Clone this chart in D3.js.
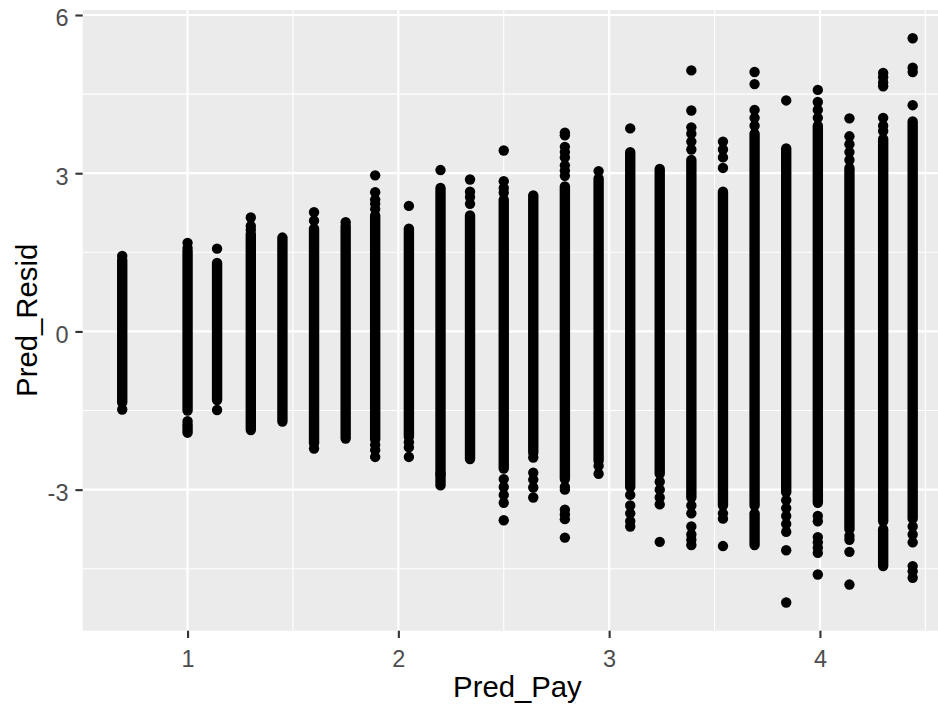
<!DOCTYPE html>
<html>
<head>
<meta charset="utf-8">
<script src="https://cdn.jsdelivr.net/npm/d3@7"></script>
<style>
  html, body { margin: 0; padding: 0; background: #ffffff; }
  svg { display: block; }
</style>
</head>
<body>
<svg id="chart" width="938" height="715"></svg>
<script>
// ---- Data ----
// Predicted pay levels (x positions of the vertical columns)
const predPay = [0.69, 1.00, 1.14, 1.30, 1.45, 1.60, 1.75, 1.89, 2.05, 2.20, 2.34, 2.50, 2.64,
                 2.79, 2.95, 3.10, 3.24, 3.39, 3.54, 3.69, 3.84, 3.99, 4.14, 4.30, 4.44];
// Dense range of residuals in each column (low / high)
const bandLow  = [-1.35, -1.50, -1.30, -1.87, -1.71, -2.12, -2.03, -2.05, -2.00, -2.92, -2.42, -2.60, -2.30,
                  -2.80, -2.45, -2.95, -2.70, -3.15, -3.30, -3.30, -3.05, -3.25, -3.75, -3.60, -3.55];
const bandHigh = [1.36, 1.52, 1.30, 1.85, 1.78, 1.95, 2.00, 2.20, 1.95, 2.72, 2.20, 2.50, 2.58,
                  2.75, 2.90, 3.40, 3.08, 3.25, 2.65, 3.75, 3.47, 3.90, 3.10, 3.65, 3.98];
// Secondary dense ranges separated from the main band
const extraCol  = [1, 19, 23];
const extraLow  = [-1.92, -4.05, -4.45];
const extraHigh = [-1.76, -3.45, -3.75];
// Isolated points per column
const outliers = [
  [1.43, -1.48],
  [1.68, 1.58, -1.70],
  [1.57, -1.49],
  [2.16, 2.00, 1.93],
  [],
  [2.26, 2.10, -2.22],
  [2.07],
  [2.96, 2.64, 2.50, 2.42, 2.32, -2.15, -2.25, -2.38],
  [2.38, -2.10, -2.20, -2.38],
  [3.06, -2.70],
  [2.88, 2.65, 2.55, 2.42],
  [3.43, 2.85, 2.72, 2.63, -2.80, -2.95, -3.10, -3.25, -3.58],
  [-2.39, -2.68, -2.81, -2.96, -3.15],
  [3.77, 3.72, 3.50, 3.40, 3.30, 3.15, 3.05, 2.95, -2.95, -3.00, -3.38, -3.47, -3.56, -3.91],
  [3.04, -2.55, -2.70],
  [3.85, -3.10, -3.30, -3.45, -3.60, -3.70],
  [-2.85, -3.00, -3.15, -3.28, -3.99],
  [4.95, 4.19, 3.87, 3.75, 3.60, 3.45, -3.30, -3.45, -3.70, -3.85, -3.95, -4.05],
  [3.60, 3.45, 3.30, 3.10, -3.45, -3.55, -4.07],
  [4.92, 4.69, 4.20, 4.05, 3.90],
  [4.38, -3.20, -3.35, -3.50, -3.65, -3.80, -4.15, -5.14],
  [4.58, 4.35, 4.20, 4.05, -3.50, -3.60, -3.90, -4.00, -4.10, -4.20, -4.61],
  [4.04, 3.70, 3.55, 3.40, 3.25, -3.88, -3.95, -4.18, -4.80],
  [4.90, 4.82, 4.72, 4.65, 4.05, 3.90, 3.80],
  [5.56, 5.00, 4.92, 4.29, -3.70, -3.85, -4.00, -4.45, -4.55, -4.67]
];
const xTicks = [1, 2, 3, 4];
const xMinor = [1.5, 2.5, 3.5, 4.5];
const yTicks = [-3, 0, 3, 6];
const yMinor = [-4.5, -1.5, 1.5, 4.5];
const xTickLabels = ["1", "2", "3", "4"];
const yTickLabels = ["-3", "0", "3", "6"];
const xTitle = "Pred_Pay";
const yTitle = "Pred_Resid";

// ---- Layout ----
const panel = { left: 82.7, top: 10, right: 952.2, bottom: 630.7 };
const font = "'Liberation Sans', Arial, Helvetica, sans-serif";
const ptR = 5.2;

// ggplot-style 5% expansion
function expand(ext) { const d = ext[1] - ext[0]; return [ext[0] - 0.05 * d, ext[1] + 0.05 * d]; }
const allY = bandLow.concat(bandHigh, extraLow, extraHigh, outliers.flat());
const x = d3.scaleLinear().domain(expand(d3.extent(predPay))).range([panel.left, panel.right]);
const y = d3.scaleLinear().domain(expand(d3.extent(allY))).range([panel.bottom, panel.top]);

const svg = d3.select("#chart");
svg.append("rect").attr("width", 938).attr("height", 715).attr("fill", "#ffffff");

// panel background
svg.append("rect")
  .attr("x", panel.left).attr("y", panel.top)
  .attr("width", panel.right - panel.left).attr("height", panel.bottom - panel.top)
  .attr("fill", "#EBEBEB");

const grid = svg.append("g");
grid.selectAll(".ymin").data(yMinor).join("line")
  .attr("x1", panel.left).attr("x2", panel.right)
  .attr("y1", d => y(d)).attr("y2", d => y(d))
  .attr("stroke", "#ffffff").attr("stroke-width", 1.1);
grid.selectAll(".xmin").data(xMinor).join("line")
  .attr("y1", panel.top).attr("y2", panel.bottom)
  .attr("x1", d => x(d)).attr("x2", d => x(d))
  .attr("stroke", "#ffffff").attr("stroke-width", 1.1);
grid.selectAll(".ymaj").data(yTicks).join("line")
  .attr("x1", panel.left).attr("x2", panel.right)
  .attr("y1", d => y(d)).attr("y2", d => y(d))
  .attr("stroke", "#ffffff").attr("stroke-width", 2.2);
grid.selectAll(".xmaj").data(xTicks).join("line")
  .attr("y1", panel.top).attr("y2", panel.bottom)
  .attr("x1", d => x(d)).attr("x2", d => x(d))
  .attr("stroke", "#ffffff").attr("stroke-width", 2.2);

// points: dense bands (points overlapping into a solid column)
const marks = svg.append("g");
marks.selectAll(".band").data(predPay).join("line")
  .attr("x1", d => x(d)).attr("x2", d => x(d))
  .attr("y1", (d, i) => y(bandLow[i])).attr("y2", (d, i) => y(bandHigh[i]))
  .attr("stroke", "#000").attr("stroke-width", ptR * 2).attr("stroke-linecap", "round");
marks.selectAll(".extra").data(extraCol).join("line")
  .attr("x1", d => x(predPay[d])).attr("x2", d => x(predPay[d]))
  .attr("y1", (d, i) => y(extraLow[i])).attr("y2", (d, i) => y(extraHigh[i]))
  .attr("stroke", "#000").attr("stroke-width", ptR * 2).attr("stroke-linecap", "round");
const pts = [];
outliers.forEach((arr, i) => arr.forEach(v => pts.push({ x: predPay[i], y: v })));
marks.selectAll("circle").data(pts).join("circle")
  .attr("cx", d => x(d.x)).attr("cy", d => y(d.y)).attr("r", ptR).attr("fill", "#000");

// axes
const tickLen = 7.3;
const xAxis = svg.append("g").attr("transform", `translate(0,${panel.bottom})`)
  .call(d3.axisBottom(x).tickValues(xTicks).tickSize(tickLen)
    .tickFormat((d, i) => xTickLabels[i]));
xAxis.select(".domain").remove();
xAxis.selectAll(".tick line").attr("stroke", "#333333").attr("stroke-width", 2.1);
xAxis.selectAll(".tick text").attr("y", 36.3).attr("dy", 0)
  .attr("fill", "#4D4D4D").style("font-family", font).style("font-size", "23.5px");

const yAxis = svg.append("g").attr("transform", `translate(${panel.left},0)`)
  .call(d3.axisLeft(y).tickValues(yTicks).tickSize(tickLen)
    .tickFormat((d, i) => yTickLabels[i]));
yAxis.select(".domain").remove();
yAxis.selectAll(".tick line").attr("stroke", "#333333").attr("stroke-width", 2.1);
yAxis.selectAll(".tick text").attr("x", -14.2).attr("dy", "0.46em")
  .attr("fill", "#4D4D4D").style("font-family", font).style("font-size", "23.5px");

// titles
svg.append("text")
  .attr("x", (panel.left + panel.right) / 2).attr("y", 697)
  .attr("text-anchor", "middle").attr("fill", "#000")
  .style("font-family", font).style("font-size", "29.3px")
  .text(xTitle);
svg.append("text")
  .attr("transform", `translate(36.5,${(panel.top + panel.bottom) / 2}) rotate(-90)`)
  .attr("text-anchor", "middle").attr("fill", "#000")
  .style("font-family", font).style("font-size", "29.3px")
  .text(yTitle);
</script>
</body>
</html>
